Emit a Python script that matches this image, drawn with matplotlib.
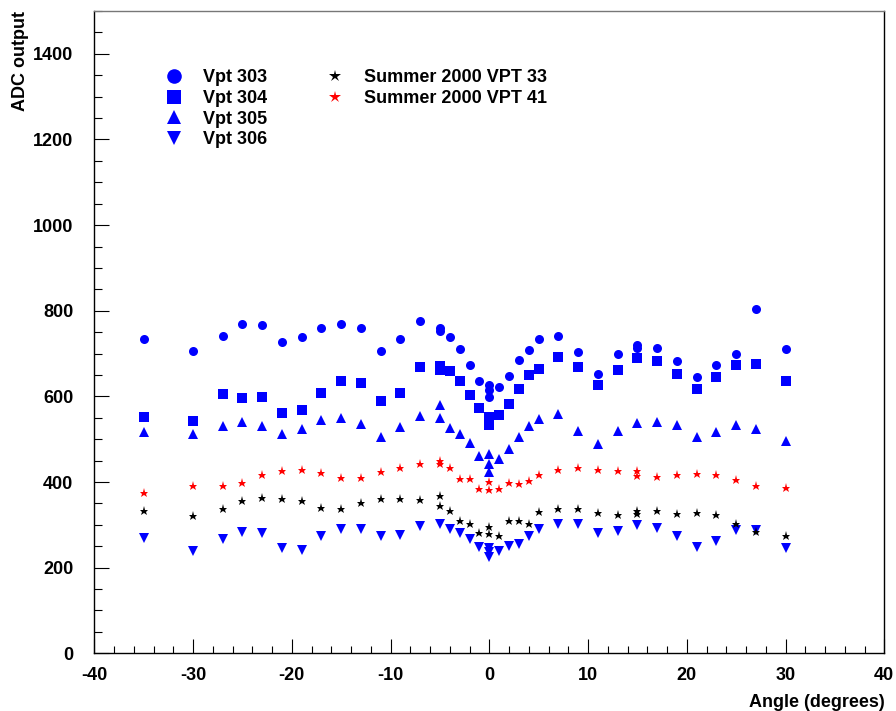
import matplotlib
matplotlib.use("Agg")
import matplotlib.pyplot as plt
from matplotlib.ticker import MultipleLocator

plt.rcParams['font.family'] = ['Liberation Sans', 'DejaVu Sans']
plt.rcParams['font.weight'] = 'bold'
plt.rcParams['axes.labelweight'] = 'bold'
plt.rcParams['axes.unicode_minus'] = False

# angle scans, repeated angles are repeated measurements
x_303 = [-35, -30, -27, -25, -23, -21, -19, -17, -15, -13, -11, -9, -7, -5, -5, -4, -3, -2, -1,
         0, 0, 0, 1, 2, 3, 4, 5, 7, 9, 11, 13, 15, 15, 17, 19, 21, 23, 25, 27, 30]
y_303 = [735, 705, 742, 770, 766, 728, 738, 759, 770, 759, 705, 735, 777, 759, 752, 738, 711, 674, 635,
         626, 614, 599, 623, 648, 684, 709, 735, 740, 704, 653, 700, 721, 713, 714, 683, 645, 674, 700, 803, 711]

x_304 = [-35, -30, -27, -25, -23, -21, -19, -17, -15, -13, -11, -9, -7, -5, -5, -4, -3, -2, -1,
         0, 0, 0, 1, 2, 3, 4, 5, 7, 9, 11, 13, 15, 17, 19, 21, 23, 25, 27, 30]
y_304 = [552, 542, 606, 596, 598, 561, 567, 607, 635, 631, 590, 608, 669, 672, 661, 659, 635, 604, 573,
         552, 544, 533, 556, 583, 617, 650, 665, 691, 669, 627, 662, 690, 683, 652, 617, 645, 673, 676, 636]

x_305 = [-35, -30, -27, -25, -23, -21, -19, -17, -15, -13, -11, -9, -7, -5, -5, -4, -3, -2, -1,
         0, 0, 0, 1, 2, 3, 4, 5, 7, 9, 11, 13, 15, 17, 19, 21, 23, 25, 27, 30]
y_305 = [517, 513, 530, 540, 531, 512, 523, 544, 549, 536, 506, 529, 554, 579, 549, 526, 513, 491, 461,
         465, 441, 424, 453, 478, 506, 530, 548, 558, 520, 489, 518, 537, 541, 534, 506, 516, 532, 524, 496]

x_306 = [-35, -30, -27, -25, -23, -21, -19, -17, -15, -13, -11, -9, -7, -5, -4, -3, -2, -1,
         0, 0, 0, 1, 2, 3, 4, 5, 7, 9, 11, 13, 15, 17, 19, 21, 23, 25, 27, 30]
y_306 = [269, 239, 266, 284, 280, 245, 242, 273, 291, 290, 275, 277, 297, 301, 291, 280, 266, 249,
         245, 237, 226, 240, 251, 255, 275, 290, 301, 301, 281, 286, 299, 293, 273, 248, 262, 287, 288, 245]

x_s33 = [-35, -30, -27, -25, -23, -21, -19, -17, -15, -13, -11, -9, -7, -5, -5, -4, -3, -2, -1,
         0, 0, 1, 2, 3, 4, 5, 7, 9, 11, 13, 15, 15, 17, 19, 21, 23, 25, 27, 30]
y_s33 = [332, 320, 337, 356, 362, 360, 355, 339, 336, 350, 360, 361, 357, 367, 345, 332, 308, 301, 280,
         296, 278, 275, 308, 309, 301, 329, 336, 336, 327, 324, 332, 325, 332, 326, 327, 322, 301, 284, 273]

x_s41 = [-35, -30, -27, -25, -23, -21, -19, -17, -15, -13, -11, -9, -7, -5, -5, -4, -3, -2, -1,
         0, 0, 1, 2, 3, 4, 5, 7, 9, 11, 13, 15, 15, 17, 19, 21, 23, 25, 27, 30]
y_s41 = [374, 390, 390, 398, 416, 426, 427, 421, 409, 410, 424, 433, 441, 450, 441, 432, 406, 406, 384,
         399, 381, 383, 398, 395, 403, 416, 428, 433, 428, 426, 426, 413, 411, 416, 419, 416, 404, 390, 385]

fig = plt.figure(figsize=(8.96, 7.11), dpi=100)
ax = fig.add_axes([0.1052, 0.0812, 0.8817, 0.9033])

kw = dict(linestyle='none', markeredgewidth=0)
h303, = ax.plot(x_303, y_303, 'o', color='blue', markersize=6.5, label='Vpt 303', **kw)
h304, = ax.plot(x_304, y_304, 's', color='blue', markersize=6.5, label='Vpt 304', **kw)
h305, = ax.plot(x_305, y_305, '^', color='blue', markersize=7, label='Vpt 305', **kw)
h306, = ax.plot(x_306, y_306, 'v', color='blue', markersize=7, label='Vpt 306', **kw)
hs33, = ax.plot(x_s33, y_s33, '*', color='black', markersize=6.5, label='Summer 2000 VPT 33', **kw)
hs41, = ax.plot(x_s41, y_s41, '*', color='red', markersize=6.5, label='Summer 2000 VPT 41', **kw)

ax.set_xlim(-40, 40)
ax.set_ylim(0, 1500)
ax.xaxis.set_major_locator(MultipleLocator(10))
ax.xaxis.set_minor_locator(MultipleLocator(2))
ax.yaxis.set_major_locator(MultipleLocator(200))
ax.yaxis.set_minor_locator(MultipleLocator(50))
ax.tick_params(axis='x', which='major', direction='in', length=10, width=0.8, pad=10, labelsize=13)
ax.tick_params(axis='x', which='minor', direction='in', length=5, width=0.8)
ax.tick_params(axis='y', which='major', direction='in', length=11, width=0.8, pad=15, labelsize=13)
ax.tick_params(axis='y', which='minor', direction='in', length=6, width=0.8)
for s in ax.spines.values():
    s.set_linewidth(1.0)
ax.spines['top'].set_color('#777777')

ax.set_xlabel('Angle (degrees)', loc='right', fontsize=13, labelpad=7)
ax.set_ylabel('ADC output', loc='top', fontsize=13, labelpad=3)

legend_kw = dict(loc='upper left', frameon=False, fontsize=13, borderpad=0, borderaxespad=0,
                 handlelength=1.0, handletextpad=1.1, labelspacing=0.2)
leg1 = ax.legend(handles=[h303, h304, h305, h306], bbox_to_anchor=(0.0891, 0.9090), **legend_kw)
for h in leg1.legend_handles:
    h.set_markersize(10.5)
ax.add_artist(leg1)
leg2 = ax.legend(handles=[hs33, hs41], bbox_to_anchor=(0.2929, 0.9090), **legend_kw)
for h in leg2.legend_handles:
    h.set_markersize(9)

fig.savefig('out.png', dpi=100)
